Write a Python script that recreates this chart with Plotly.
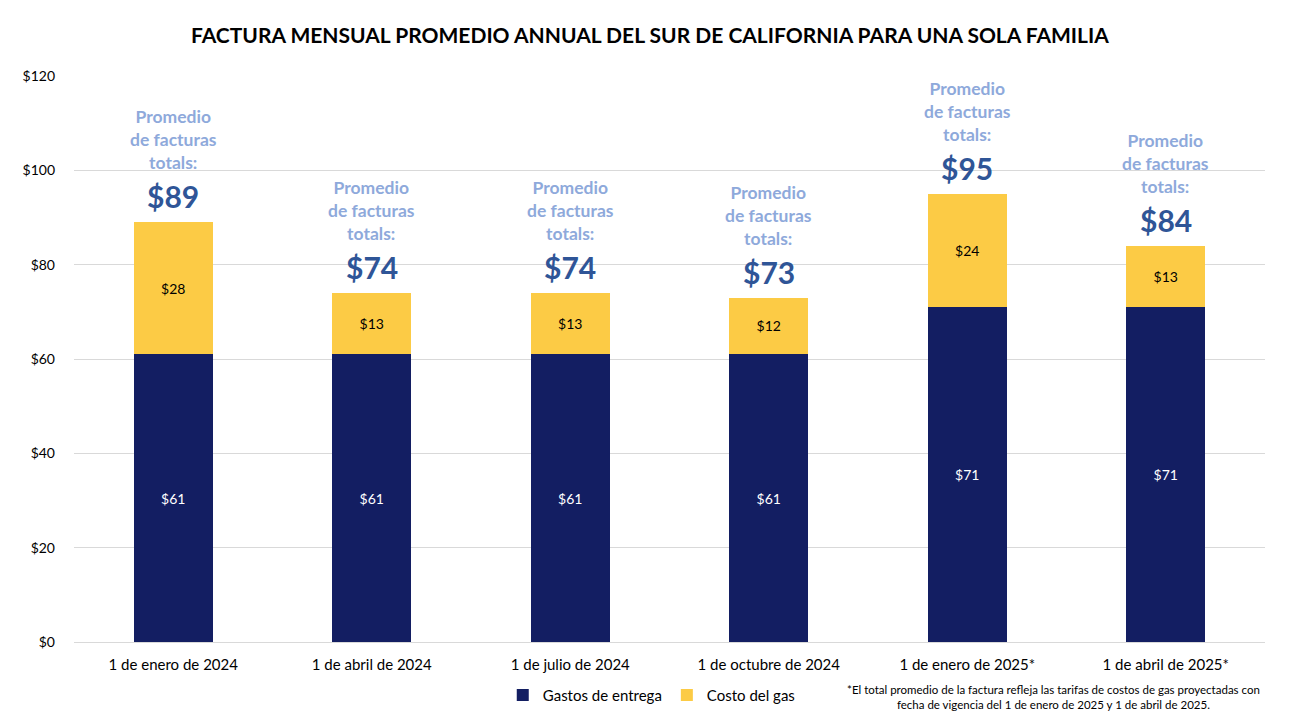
import plotly.graph_objects as go

categories = ["1 de enero de 2024", "1 de abril de 2024", "1 de julio de 2024",
              "1 de octubre de 2024", "1 de enero de 2025*", "1 de abril de 2025*"]
delivery = [61, 61, 61, 61, 71, 71]
gas = [28, 13, 13, 12, 24, 13]
totals = [89, 74, 74, 73, 95, 84]
y_ticks = [0, 20, 40, 60, 80, 100, 120]
y_tick_labels = ["$0", "$20", "$40", "$60", "$80", "$100", "$120"]

FONT = "Lato"
NAVY = "#131E62"
YELLOW = "#FCCB45"

fig = go.Figure()
fig.add_trace(go.Bar(
    x=categories, y=delivery, name="Gastos de entrega",
    marker=dict(color=NAVY, line=dict(width=0)),
    text=[f"${v}" for v in delivery], textposition="inside",
    insidetextanchor="middle", textangle=0,
    textfont=dict(color="white", size=14, family=FONT),
))
fig.add_trace(go.Bar(
    x=categories, y=gas, name="Costo del gas",
    marker=dict(color=YELLOW, line=dict(width=0)),
    text=[f"${v}" for v in gas], textposition="inside",
    insidetextanchor="middle", textangle=0,
    textfont=dict(color="black", size=14, family=FONT),
))

for c, t in zip(categories, totals):
    fig.add_annotation(x=c, y=t, xref="x", yref="y", text=f"<b>${t}</b>",
                       showarrow=False, yanchor="bottom", yshift=6,
                       font=dict(size=30, color="#2F5597", family=FONT))
    fig.add_annotation(x=c, y=t, xref="x", yref="y",
                       text="<b>Promedio<br>de facturas<br>totals:</b>",
                       showarrow=False, yanchor="bottom", yshift=47,
                       font=dict(size=17.5, color="#8EA9DB", family=FONT))

fig.add_annotation(x=0.822, y=-0.097, xref="paper", yref="paper",
                   text="*El total promedio de la factura refleja las tarifas de costos de gas proyectadas con<br>fecha de vigencia del 1 de enero de 2025 y 1 de abril de 2025.",
                   showarrow=False, xanchor="center", yanchor="middle", align="center",
                   font=dict(size=11.5, color="black", family=FONT))

fig.update_layout(
    width=1300, height=727,
    margin=dict(l=66, r=43, t=68, b=93),
    paper_bgcolor="white", plot_bgcolor="white",
    barmode="stack", bargap=0.6,
    title=dict(text="<b>FACTURA MENSUAL PROMEDIO ANNUAL DEL SUR DE CALIFORNIA PARA UNA SOLA FAMILIA</b>",
               x=0.4938, xanchor="center", y=0.9615, yanchor="middle",
               font=dict(size=21, color="black", family=FONT)),
    font=dict(family=FONT, color="black", size=14),
    legend=dict(orientation="h", x=0.36, xanchor="left", y=-0.094, yanchor="middle",
                font=dict(size=15, family=FONT), itemwidth=30, traceorder="normal"),
    yaxis=dict(range=[0, 120], tickvals=y_ticks, ticktext=y_tick_labels,
               showgrid=True, gridcolor="#D9D9D9", gridwidth=1, zeroline=False,
               showline=False, ticks="", ticklabelstandoff=18,
               tickfont=dict(size=14, family=FONT)),
    xaxis=dict(showline=True, linecolor="#D9D9D9", ticks="", ticklabelstandoff=9,
               tickfont=dict(size=15, family=FONT)),
)

fig.write_html("out.html")
